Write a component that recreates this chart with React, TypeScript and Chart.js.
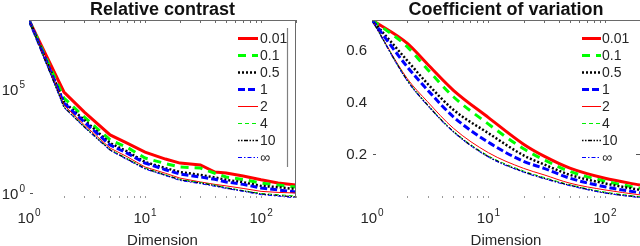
import React, { useEffect, useRef } from 'react';
import { Chart, registerables } from 'chart.js';
Chart.register(...registerables);

// ---------- data ----------
const seriesLabels = ['0.01', '0.1', '0.5', '1', '2', '4', '10', '∞'];
const xTicks = [1, 10, 100];
const xTickExp = ['0', '1', '2'];
const rcYTicks = [1, 1e5];
const rcYTickExp = ['0', '5'];
const cvYTicks = [0.2, 0.4, 0.6];
const cvYTickLabels = ['0.2', '0.4', '0.6'];

// Relative contrast
const dimsRC = [1, 2, 3, 5, 7, 10, 15, 20, 30, 40, 50, 70, 100, 140, 200];
const rc_001 = [2.1e8, 7.2e4, 7.8e3, 620, 251, 93, 43, 27.5, 22.4, 10.2, 9.1, 6.6, 4.3, 3.0, 2.4];
const rc_01 = [2.1e8, 3.7e4, 4.5e3, 355, 158, 48, 26, 17.8, 15.8, 8.9, 5.9, 4.5, 3.0, 2.4, 1.95];
const rc_05 = [2.1e8, 2.4e4, 3.2e3, 251, 100, 31, 15.8, 10.2, 7.4, 5.6, 4.3, 3.3, 2.2, 1.9, 1.55];
const rc_1 = [2.1e8, 2.1e4, 2.6e3, 204, 83, 27.5, 13.2, 8.1, 5.9, 4.6, 3.4, 2.6, 1.74, 1.41, 1.12];
const rc_2 = [2.1e8, 1.7e4, 1.86e3, 145, 56, 17.8, 8.9, 5.2, 3.4, 2.6, 2.2, 1.66, 1.2, 1.07, 1.0];
const rc_4 = [2.1e8, 1.41e4, 1.58e3, 123, 46, 15.8, 7.6, 4.5, 3.2, 2.4, 1.82, 1.32, 0.95, 0.83, 0.72];
const rc_10 = [2.1e8, 1.35e4, 1.48e3, 117, 43, 15.1, 7.2, 4.3, 3.0, 2.3, 1.74, 1.26, 0.89, 0.76, 0.65];
const rc_inf = [2.1e8, 1.3e4, 1.45e3, 112, 40, 14.1, 6.9, 4.0, 2.8, 2.1, 1.66, 1.2, 0.83, 0.71, 0.575];
const rcMin = 0.575;
const rcMax = 2.1e8;

// Coefficient of variation
const dimsCV = [1, 2, 3, 5, 10, 20, 30, 50, 100, 200];
const cv_001 = [0.715, 0.626, 0.545, 0.445, 0.34, 0.238, 0.192, 0.146, 0.107, 0.081];
const cv_01 = [0.715, 0.613, 0.525, 0.42, 0.315, 0.22, 0.178, 0.133, 0.096, 0.068];
const cv_05 = [0.715, 0.56, 0.47, 0.37, 0.28, 0.195, 0.16, 0.12, 0.087, 0.062];
const cv_1 = [0.715, 0.536, 0.446, 0.343, 0.245, 0.172, 0.145, 0.107, 0.074, 0.051];
const cv_2 = [0.715, 0.491, 0.401, 0.299, 0.205, 0.145, 0.12, 0.088, 0.062, 0.043];
const cv_4 = [0.715, 0.486, 0.39, 0.288, 0.193, 0.135, 0.11, 0.082, 0.054, 0.036];
const cv_10 = [0.715, 0.484, 0.388, 0.286, 0.19, 0.132, 0.107, 0.08, 0.051, 0.034];
const cv_inf = [0.715, 0.482, 0.386, 0.284, 0.188, 0.13, 0.105, 0.078, 0.05, 0.032];
const cvMin = 0.031;
const cvMax = 0.715;

// ---------- styles ----------
const colors = ['#ff0000', '#00ff00', '#000000', '#0000ff', '#ff0000', '#00f000', '#000000', '#0000ff'];
const widths = [3, 3, 2.5, 3, 1, 1, 1.3, 1];
const dashes: number[][] = [[], [8, 6], [2, 2], [7, 3], [], [4, 3], [1.5, 1.5, 1.5, 1.5, 4, 1.5], [4, 2, 1.5, 2]];

const FONT = '"Liberation Sans", Arial, Helvetica, sans-serif';
const TEXT = '#262626';

type Cfg = {
  title: string;
  rightBorder: boolean;
  legendLine: boolean;
  yLog: boolean;
  yTicks: number[];
  yExp?: string[];
  yLabels?: string[];
  rightYTicks: boolean;
  legendOffsets: [number, number, number];
};

function drawPow(ctx: CanvasRenderingContext2D, x: number, y: number, exp: string, align: 'center' | 'right') {
  ctx.font = `15px ${FONT}`;
  const wb = ctx.measureText('10').width;
  ctx.font = `10px ${FONT}`;
  const we = ctx.measureText(exp).width;
  const total = wb + we + 1;
  const x0 = align === 'center' ? x - total / 2 : x - total;
  ctx.textAlign = 'left';
  ctx.textBaseline = 'alphabetic';
  ctx.font = `15px ${FONT}`;
  ctx.fillText('10', x0, y);
  ctx.font = `10px ${FONT}`;
  ctx.fillText(exp, x0 + wb + 1, y - 7);
}

function decor(cfg: Cfg) {
  return {
    id: 'decor',
    afterDraw(chart: any) {
      const { ctx, chartArea: a, scales } = chart;
      const xs = scales.x;
      const ys = scales.y;
      ctx.save();
      // title
      ctx.fillStyle = '#111';
      ctx.font = `bold 18px ${FONT}`;
      ctx.textAlign = 'center';
      ctx.textBaseline = 'alphabetic';
      ctx.fillText(cfg.title, (a.left + a.right) / 2, 15);

      // frame
      ctx.strokeStyle = '#6a6a6a';
      ctx.lineWidth = 1;
      ctx.beginPath();
      ctx.moveTo(a.left, a.top + 0.5);
      ctx.lineTo(a.right, a.top + 0.5);
      if (cfg.rightBorder) {
        ctx.moveTo(a.right - 0.5, a.top);
        ctx.lineTo(a.right - 0.5, a.bottom);
      }
      ctx.stroke();

      // minor/major x ticks (top inward, bottom faint)
      const xt: number[] = [];
      for (let dec = 1; dec <= 100; dec *= 10) {
        for (let m = 1; m <= 9; m++) {
          const v = dec * m;
          if (v > 1 && v <= 200) xt.push(v);
        }
      }
      ctx.beginPath();
      ctx.strokeStyle = '#6a6a6a';
      xt.forEach((v) => {
        const px = Math.round(xs.getPixelForValue(v)) + 0.5;
        ctx.moveTo(px, a.top);
        ctx.lineTo(px, a.top + 3);
      });
      ctx.stroke();
      ctx.beginPath();
      ctx.strokeStyle = '#9a9a9a';
      xt.forEach((v) => {
        const px = Math.round(xs.getPixelForValue(v)) + 0.5;
        ctx.moveTo(px, a.bottom - 2);
        ctx.lineTo(px, a.bottom);
      });
      ctx.stroke();

      // y ticks (only the lowest labelled one is visible in the source)
      ctx.beginPath();
      ctx.strokeStyle = '#555';
      const py0 = Math.round(ys.getPixelForValue(cfg.yTicks[0])) + 0.5;
      ctx.moveTo(a.left + 1, py0);
      ctx.lineTo(a.left + 4, py0);
      if (cfg.rightYTicks) {
        ctx.moveTo(a.right - 4, py0);
        ctx.lineTo(a.right, py0);
      }
      ctx.stroke();

      // x tick labels
      ctx.fillStyle = TEXT;
      xTicks.forEach((v, i) => {
        drawPow(ctx, xs.getPixelForValue(v), 223, xTickExp[i], 'center');
      });
      // y tick labels
      cfg.yTicks.forEach((v, i) => {
        const py = ys.getPixelForValue(v);
        if (cfg.yLog && cfg.yExp) {
          drawPow(ctx, a.left - 4, py + 5.5, cfg.yExp[i], 'right');
        } else if (cfg.yLabels) {
          ctx.font = `15px ${FONT}`;
          ctx.textAlign = 'right';
          ctx.textBaseline = 'middle';
          ctx.fillText(cfg.yLabels[i], a.left - 5, py + 1);
        }
      });
      // x axis title
      ctx.font = `15px ${FONT}`;
      ctx.textAlign = 'center';
      ctx.textBaseline = 'alphabetic';
      ctx.fillText('Dimension', (a.left + a.right) / 2, 245);

      // legend
      const [o0, o1, ot] = cfg.legendOffsets;
      chart.data.datasets.forEach((ds: any, i: number) => {
        const y = Math.round(a.top + 18.3 + i * 16.9) + 0.5;
        ctx.beginPath();
        ctx.strokeStyle = ds.borderColor;
        ctx.lineWidth = ds.borderWidth;
        ctx.setLineDash(ds.borderDash || []);
        ctx.moveTo(a.right - o0, y);
        ctx.lineTo(a.right - o1, y);
        ctx.stroke();
        ctx.setLineDash([]);
        ctx.fillStyle = TEXT;
        ctx.font = `14px ${FONT}`;
        ctx.textAlign = 'left';
        ctx.textBaseline = 'middle';
        ctx.fillText(ds.label, a.right - ot, y + 0.5);
      });
      if (cfg.legendLine) {
        ctx.beginPath();
        ctx.strokeStyle = '#808080';
        ctx.lineWidth = 1.2;
        ctx.moveTo(a.right - 8.5, a.top + 8);
        ctx.lineTo(a.right - 8.5, a.top + 147);
        ctx.stroke();
      }
      ctx.restore();
    },
  };
}

function makeDatasets(dims: number[], series: number[][], smooth: boolean) {
  return seriesLabels.map((label, i) => ({
    label,
    data: dims.map((d, j) => ({ x: d, y: series[i][j] })),
    borderColor: colors[i],
    backgroundColor: colors[i],
    borderWidth: widths[i],
    borderDash: dashes[i],
    pointRadius: 0,
    fill: false,
    tension: 0,
    cubicInterpolationMode: smooth ? 'monotone' : 'default',
    order: 7 - i,
  }));
}

function PlotCanvas(props: { kind: 'rc' | 'cv' }) {
  const ref = useRef<HTMLCanvasElement | null>(null);
  useEffect(() => {
    if (!ref.current) return;
    const isRC = props.kind === 'rc';
    const datasets = isRC
      ? makeDatasets(dimsRC, [rc_001, rc_01, rc_05, rc_1, rc_2, rc_4, rc_10, rc_inf], false)
      : makeDatasets(dimsCV, [cv_001, cv_01, cv_05, cv_1, cv_2, cv_4, cv_10, cv_inf], true);
    const cfg: Cfg = isRC
      ? {
          title: 'Relative contrast',
          rightBorder: true,
          legendLine: true,
          yLog: true,
          yTicks: rcYTicks,
          yExp: rcYTickExp,
          rightYTicks: false,
          legendOffsets: [58, 38, 36],
        }
      : {
          title: 'Coefficient of variation',
          rightBorder: false,
          legendLine: false,
          yLog: false,
          yTicks: cvYTicks,
          yLabels: cvYTickLabels,
          rightYTicks: true,
          legendOffsets: [58, 39, 38],
        };
    const chart = new Chart(ref.current, {
      type: 'line',
      data: { datasets: datasets as any },
      options: {
        responsive: false,
        animation: false,
        devicePixelRatio: 1,
        layout: { padding: { top: 20, right: isRC ? 24 : 0, bottom: 0, left: 0 } },
        plugins: { legend: { display: false }, title: { display: false }, tooltip: { enabled: false } },
        scales: {
          x: {
            type: 'logarithmic',
            min: 1,
            max: 200,
            grid: { display: false },
            border: { display: false },
            ticks: { display: false },
            afterFit: (s: any) => {
              s.height = 48;
            },
          },
          y: {
            type: isRC ? 'logarithmic' : 'linear',
            min: isRC ? rcMin : cvMin,
            max: isRC ? rcMax : cvMax,
            grid: { display: false },
            border: { display: false },
            ticks: { display: false },
            afterFit: (s: any) => {
              s.width = isRC ? 29 : 52;
            },
          },
        },
      } as any,
      plugins: [decor(cfg)],
    });
    return () => chart.destroy();
  }, []);
  return <canvas ref={ref} width={320} height={246} style={{ width: 320, height: 246, display: 'block' }} />;
}

export default function App() {
  return (
    <div style={{ position: 'fixed', left: 0, top: 0, width: 640, height: 246, background: '#fff', display: 'flex' }}>
      <PlotCanvas kind="rc" />
      <PlotCanvas kind="cv" />
    </div>
  );
}
